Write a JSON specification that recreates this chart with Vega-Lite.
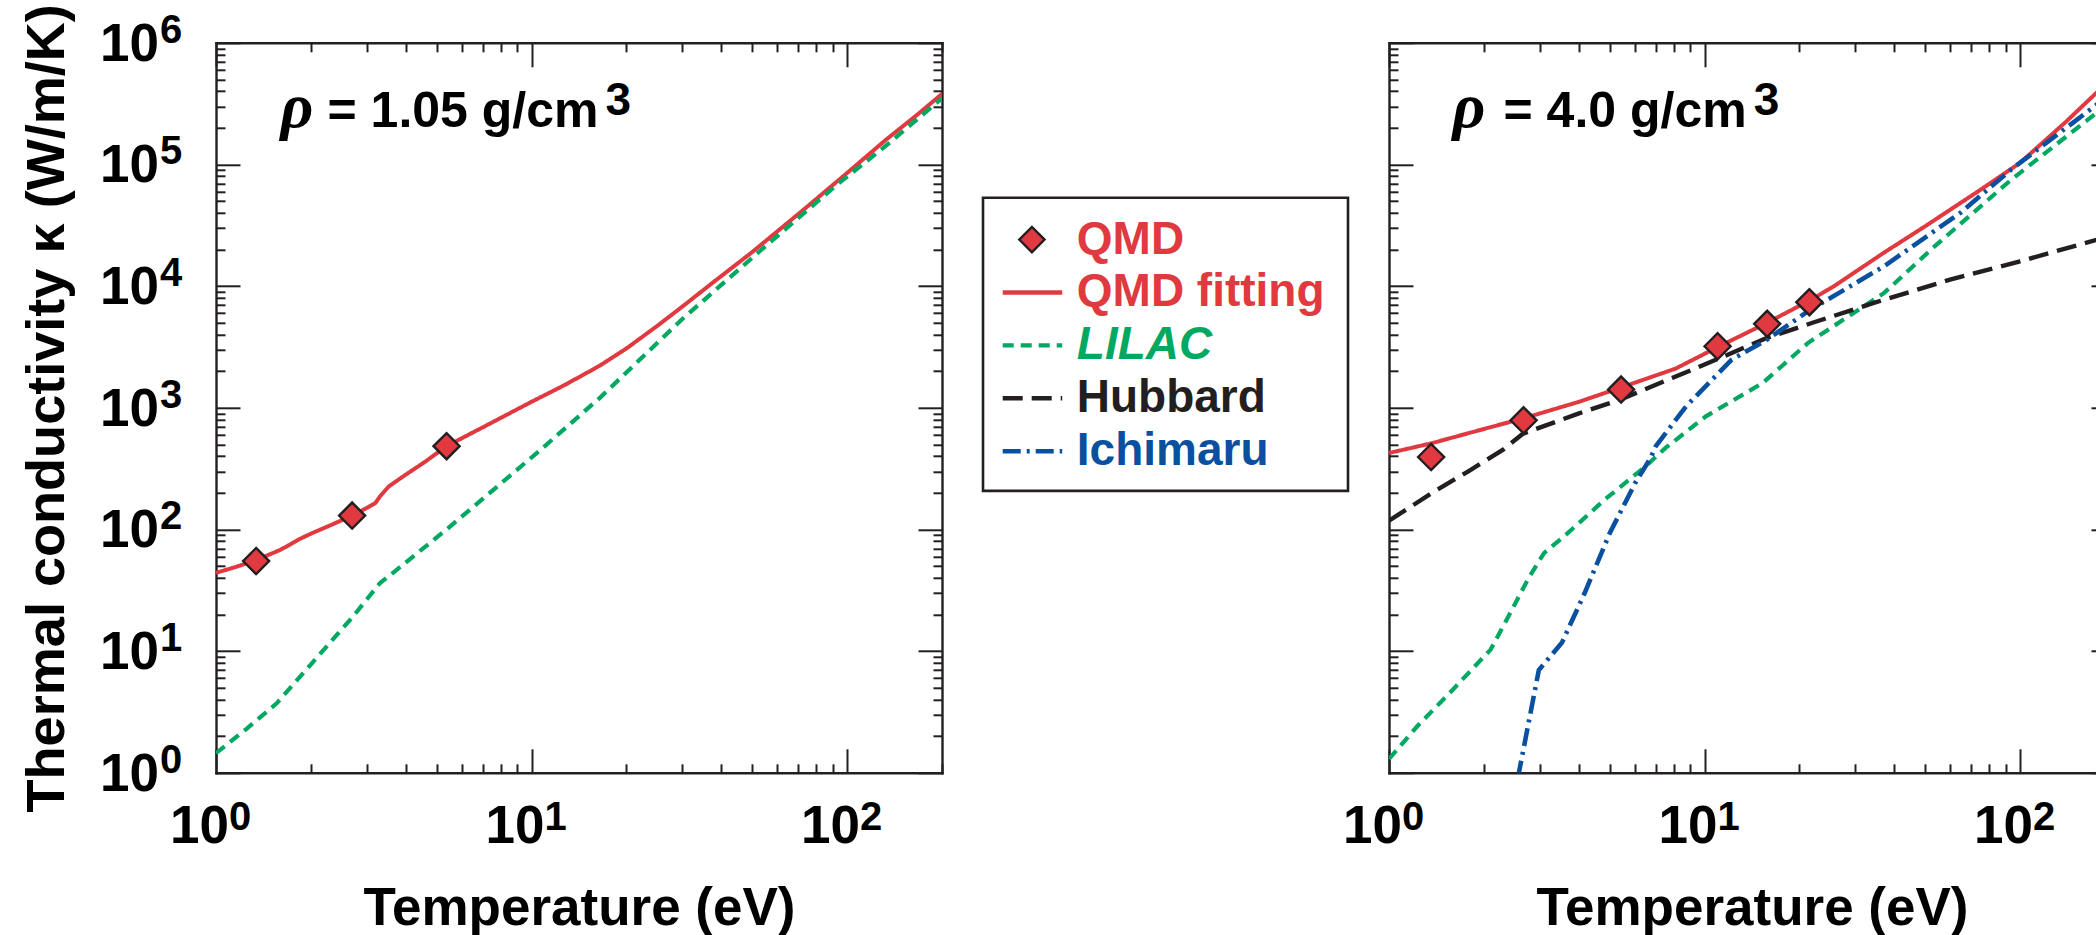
{
  "$schema": "https://vega.github.io/schema/vega-lite/v6.json",
  "background": "white",
  "padding": {"left": 20, "top": 2.8, "right": 0, "bottom": 0},
  "config": {
    "view": {"stroke": null},
    "font": "Liberation Sans",
    "axis": {
      "labels": false,
      "grid": false,
      "tickCount": 30,
      "minExtent": 0,
      "domainColor": "#231f20",
      "domainWidth": 2.4,
      "domainCap": "square",
      "tickColor": "#231f20",
      "tickWidth": 2,
      "titleFont": "Liberation Sans",
      "titleFontSize": 53,
      "titleFontWeight": "bold",
      "titleColor": "#000000"
    },
    "text": {"font": "Liberation Sans", "fontWeight": "bold", "color": "#000000"}
  },
  "datasets": {
    "curves": [
      {"rho": "1.05", "series": "QMD fitting", "T": 1, "k": 44},
      {"rho": "1.05", "series": "QMD fitting", "T": 1.15, "k": 49},
      {"rho": "1.05", "series": "QMD fitting", "T": 1.34, "k": 56},
      {"rho": "1.05", "series": "QMD fitting", "T": 1.6, "k": 68},
      {"rho": "1.05", "series": "QMD fitting", "T": 1.85, "k": 84},
      {"rho": "1.05", "series": "QMD fitting", "T": 2.03, "k": 94},
      {"rho": "1.05", "series": "QMD fitting", "T": 2.3, "k": 108},
      {"rho": "1.05", "series": "QMD fitting", "T": 2.7, "k": 130},
      {"rho": "1.05", "series": "QMD fitting", "T": 3.0, "k": 150},
      {"rho": "1.05", "series": "QMD fitting", "T": 3.2, "k": 165},
      {"rho": "1.05", "series": "QMD fitting", "T": 3.31, "k": 187},
      {"rho": "1.05", "series": "QMD fitting", "T": 3.53, "k": 226},
      {"rho": "1.05", "series": "QMD fitting", "T": 4.0, "k": 283},
      {"rho": "1.05", "series": "QMD fitting", "T": 4.6, "k": 360},
      {"rho": "1.05", "series": "QMD fitting", "T": 5.38, "k": 484},
      {"rho": "1.05", "series": "QMD fitting", "T": 7, "k": 690},
      {"rho": "1.05", "series": "QMD fitting", "T": 10, "k": 1120},
      {"rho": "1.05", "series": "QMD fitting", "T": 12.56, "k": 1510},
      {"rho": "1.05", "series": "QMD fitting", "T": 14.5, "k": 1850},
      {"rho": "1.05", "series": "QMD fitting", "T": 16.5, "k": 2230},
      {"rho": "1.05", "series": "QMD fitting", "T": 20, "k": 3075},
      {"rho": "1.05", "series": "QMD fitting", "T": 25, "k": 4700},
      {"rho": "1.05", "series": "QMD fitting", "T": 30, "k": 6760},
      {"rho": "1.05", "series": "QMD fitting", "T": 37.4, "k": 10600},
      {"rho": "1.05", "series": "QMD fitting", "T": 50, "k": 19000},
      {"rho": "1.05", "series": "QMD fitting", "T": 73, "k": 42700},
      {"rho": "1.05", "series": "QMD fitting", "T": 100, "k": 85000},
      {"rho": "1.05", "series": "QMD fitting", "T": 133, "k": 160000},
      {"rho": "1.05", "series": "QMD fitting", "T": 165, "k": 250000},
      {"rho": "1.05", "series": "QMD fitting", "T": 200, "k": 380000},

      {"rho": "1.05", "series": "LILAC", "T": 1, "k": 1.45},
      {"rho": "1.05", "series": "LILAC", "T": 1.25, "k": 2.3},
      {"rho": "1.05", "series": "LILAC", "T": 1.56, "k": 3.74},
      {"rho": "1.05", "series": "LILAC", "T": 2.0, "k": 7.8},
      {"rho": "1.05", "series": "LILAC", "T": 2.72, "k": 19.3},
      {"rho": "1.05", "series": "LILAC", "T": 3.31, "k": 36.3},
      {"rho": "1.05", "series": "LILAC", "T": 3.64, "k": 44},
      {"rho": "1.05", "series": "LILAC", "T": 5.38, "k": 100},
      {"rho": "1.05", "series": "LILAC", "T": 10.7, "k": 453},
      {"rho": "1.05", "series": "LILAC", "T": 16.5, "k": 1213},
      {"rho": "1.05", "series": "LILAC", "T": 29.9, "k": 5300},
      {"rho": "1.05", "series": "LILAC", "T": 52.2, "k": 18800},
      {"rho": "1.05", "series": "LILAC", "T": 91.5, "k": 66000},
      {"rho": "1.05", "series": "LILAC", "T": 132.6, "k": 142000},
      {"rho": "1.05", "series": "LILAC", "T": 200, "k": 350000},

      {"rho": "4.0", "series": "QMD fitting", "T": 1, "k": 425},
      {"rho": "4.0", "series": "QMD fitting", "T": 1.36, "k": 510},
      {"rho": "4.0", "series": "QMD fitting", "T": 2, "k": 670},
      {"rho": "4.0", "series": "QMD fitting", "T": 2.67, "k": 820},
      {"rho": "4.0", "series": "QMD fitting", "T": 4, "k": 1120},
      {"rho": "4.0", "series": "QMD fitting", "T": 5.44, "k": 1470},
      {"rho": "4.0", "series": "QMD fitting", "T": 8.1, "k": 2100},
      {"rho": "4.0", "series": "QMD fitting", "T": 11, "k": 3150},
      {"rho": "4.0", "series": "QMD fitting", "T": 15.8, "k": 5000},
      {"rho": "4.0", "series": "QMD fitting", "T": 21.5, "k": 7600},
      {"rho": "4.0", "series": "QMD fitting", "T": 25.6, "k": 9900},
      {"rho": "4.0", "series": "QMD fitting", "T": 37, "k": 18800},
      {"rho": "4.0", "series": "QMD fitting", "T": 50, "k": 31000},
      {"rho": "4.0", "series": "QMD fitting", "T": 75, "k": 62000},
      {"rho": "4.0", "series": "QMD fitting", "T": 100, "k": 103000},
      {"rho": "4.0", "series": "QMD fitting", "T": 140, "k": 225000},
      {"rho": "4.0", "series": "QMD fitting", "T": 175, "k": 390000},
      {"rho": "4.0", "series": "QMD fitting", "T": 200, "k": 530000},

      {"rho": "4.0", "series": "LILAC", "T": 1, "k": 1.3},
      {"rho": "4.0", "series": "LILAC", "T": 1.227, "k": 2.4},
      {"rho": "4.0", "series": "LILAC", "T": 1.59, "k": 4.8},
      {"rho": "4.0", "series": "LILAC", "T": 2.1, "k": 10.3},
      {"rho": "4.0", "series": "LILAC", "T": 2.39, "k": 19.3},
      {"rho": "4.0", "series": "LILAC", "T": 2.77, "k": 39.9},
      {"rho": "4.0", "series": "LILAC", "T": 3.1, "k": 64},
      {"rho": "4.0", "series": "LILAC", "T": 3.59, "k": 87.7},
      {"rho": "4.0", "series": "LILAC", "T": 4.83, "k": 176},
      {"rho": "4.0", "series": "LILAC", "T": 6.5, "k": 330},
      {"rho": "4.0", "series": "LILAC", "T": 7.54, "k": 470},
      {"rho": "4.0", "series": "LILAC", "T": 10.1, "k": 851},
      {"rho": "4.0", "series": "LILAC", "T": 15.3, "k": 1602},
      {"rho": "4.0", "series": "LILAC", "T": 21.3, "k": 3420},
      {"rho": "4.0", "series": "LILAC", "T": 32, "k": 6830},
      {"rho": "4.0", "series": "LILAC", "T": 37.1, "k": 8800},
      {"rho": "4.0", "series": "LILAC", "T": 53.7, "k": 21300},
      {"rho": "4.0", "series": "LILAC", "T": 93.8, "k": 75000},
      {"rho": "4.0", "series": "LILAC", "T": 175, "k": 266000},
      {"rho": "4.0", "series": "LILAC", "T": 200, "k": 340000},

      {"rho": "4.0", "series": "Hubbard", "T": 1, "k": 118},
      {"rho": "4.0", "series": "Hubbard", "T": 1.37, "k": 200},
      {"rho": "4.0", "series": "Hubbard", "T": 1.8, "k": 305},
      {"rho": "4.0", "series": "Hubbard", "T": 2.3, "k": 453},
      {"rho": "4.0", "series": "Hubbard", "T": 2.65, "k": 610},
      {"rho": "4.0", "series": "Hubbard", "T": 4, "k": 900},
      {"rho": "4.0", "series": "Hubbard", "T": 5.4, "k": 1168},
      {"rho": "4.0", "series": "Hubbard", "T": 8, "k": 1780},
      {"rho": "4.0", "series": "Hubbard", "T": 10.9, "k": 2490},
      {"rho": "4.0", "series": "Hubbard", "T": 15.8, "k": 3760},
      {"rho": "4.0", "series": "Hubbard", "T": 22, "k": 5000},
      {"rho": "4.0", "series": "Hubbard", "T": 34.4, "k": 7280},
      {"rho": "4.0", "series": "Hubbard", "T": 60, "k": 11300},
      {"rho": "4.0", "series": "Hubbard", "T": 100, "k": 16000},
      {"rho": "4.0", "series": "Hubbard", "T": 175, "k": 24000},
      {"rho": "4.0", "series": "Hubbard", "T": 200, "k": 26000},

      {"rho": "4.0", "series": "Ichimaru", "T": 2.56, "k": 0.9},
      {"rho": "4.0", "series": "Ichimaru", "T": 2.985, "k": 7},
      {"rho": "4.0", "series": "Ichimaru", "T": 3.53, "k": 11.7},
      {"rho": "4.0", "series": "Ichimaru", "T": 4.17, "k": 30},
      {"rho": "4.0", "series": "Ichimaru", "T": 5.01, "k": 93.5},
      {"rho": "4.0", "series": "Ichimaru", "T": 6.03, "k": 241},
      {"rho": "4.0", "series": "Ichimaru", "T": 6.75, "k": 387},
      {"rho": "4.0", "series": "Ichimaru", "T": 7.0, "k": 482},
      {"rho": "4.0", "series": "Ichimaru", "T": 8.74, "k": 1029},
      {"rho": "4.0", "series": "Ichimaru", "T": 12.2, "k": 2490},
      {"rho": "4.0", "series": "Ichimaru", "T": 15.8, "k": 3640},
      {"rho": "4.0", "series": "Ichimaru", "T": 21.3, "k": 6220},
      {"rho": "4.0", "series": "Ichimaru", "T": 37.1, "k": 14600},
      {"rho": "4.0", "series": "Ichimaru", "T": 64.7, "k": 40000},
      {"rho": "4.0", "series": "Ichimaru", "T": 93.8, "k": 91000},
      {"rho": "4.0", "series": "Ichimaru", "T": 175, "k": 310000},
      {"rho": "4.0", "series": "Ichimaru", "T": 200, "k": 405000}
    ],
    "qmd": [
      {"rho": "1.05", "T": 1.34, "k": 55},
      {"rho": "1.05", "T": 2.7, "k": 130},
      {"rho": "1.05", "T": 5.38, "k": 484},
      {"rho": "4.0", "T": 1.36, "k": 394},
      {"rho": "4.0", "T": 2.67, "k": 789},
      {"rho": "4.0", "T": 5.44, "k": 1412},
      {"rho": "4.0", "T": 11.0, "k": 3205},
      {"rho": "4.0", "T": 15.8, "k": 4900},
      {"rho": "4.0", "T": 21.5, "k": 7380}
    ],
    "xticks": [
      {"v": 1, "e": "0"},
      {"v": 10, "e": "1"},
      {"v": 100, "e": "2"}
    ],
    "yticks": [
      {"v": 1, "e": "0"},
      {"v": 10, "e": "1"},
      {"v": 100, "e": "2"},
      {"v": 1000, "e": "3"},
      {"v": 10000, "e": "4"},
      {"v": 100000, "e": "5"},
      {"v": 1000000, "e": "6"}
    ],
    "panels": [
      {"rho": "1.05", "sym": "ρ", "label": "= 1.05 g/cm", "sup": "3"},
      {"rho": "4.0", "sym": "ρ", "label": "= 4.0 g/cm", "sup": "3"}
    ],
    "legendRows": [
      {"series": "QMD", "row": 0},
      {"series": "QMD fitting", "row": 1},
      {"series": "LILAC", "row": 2},
      {"series": "Hubbard", "row": 3},
      {"series": "Ichimaru", "row": 4}
    ]
  },
  "spacing": 41,
  "bounds": "flush",
  "hconcat": [
    {
      "width": 726,
      "height": 730,
      "layer": [
        {
          "data": {"name": "curves"},
          "transform": [{"filter": "datum.rho === '1.05'"}],
          "mark": {"type": "line", "clip": true},
          "encoding": {
            "x": {"field": "T", "type": "quantitative", "scale": {"type": "log", "domain": [1, 200], "nice": false},
                  "axis": {"orient": "bottom", "title": "Temperature (eV)", "titlePadding": 151, "titleBaseline": "alphabetic",
                           "tickSize": {"condition": {"test": "indexof([1,10,100,1000,10000,100000,1000000], datum.value) >= 0", "value": -24}, "value": -9}}},
            "y": {"field": "k", "type": "quantitative", "scale": {"type": "log", "domain": [1, 1000000], "nice": false},
                  "axis": {"orient": "left", "title": "Thermal conductivity κ (W/m/K)", "titleFontSize": 54.1, "titlePadding": 152, "titleBaseline": "alphabetic",
                           "tickSize": {"condition": {"test": "indexof([1,10,100,1000,10000,100000,1000000], datum.value) >= 0", "value": -24}, "value": -9}}},
            "color": {"field": "series", "type": "nominal", "legend": null,
                      "scale": {"domain": ["QMD", "QMD fitting", "LILAC", "Hubbard", "Ichimaru"], "range": ["#e03a40", "#e03a40", "#00a862", "#231f20", "#0a50a0"]}},
            "strokeDash": {"field": "series", "type": "nominal", "legend": null,
                           "scale": {"domain": ["QMD fitting", "LILAC", "Hubbard", "Ichimaru"], "range": [[1, 0], [11, 7], [20, 9], [18, 6, 3, 6]]}},
            "strokeWidth": {"field": "series", "type": "nominal", "legend": null,
                            "scale": {"domain": ["QMD fitting", "LILAC", "Hubbard", "Ichimaru"], "range": [4, 4.6, 4.6, 4.4]}}
          }
        },
        {
          "data": {"name": "qmd"},
          "transform": [{"filter": "datum.rho === '1.05'"}],
          "mark": {"type": "point", "shape": "diamond", "filled": true, "size": 680, "fill": "#e03a40", "stroke": "#231f20", "strokeWidth": 2.4, "opacity": 1},
          "encoding": {
            "x": {"field": "T", "type": "quantitative",
                  "axis": {"orient": "top", "title": null,
                           "tickSize": {"condition": {"test": "indexof([1,10,100,1000,10000,100000,1000000], datum.value) >= 0", "value": -24}, "value": -9}}},
            "y": {"field": "k", "type": "quantitative",
                  "axis": {"orient": "right", "title": null,
                           "tickSize": {"condition": {"test": "indexof([1,10,100,1000,10000,100000,1000000], datum.value) >= 0", "value": -24}, "value": -9}}}
          }
        },
        {
          "data": {"name": "yticks"},
          "mark": {"type": "text", "align": "right", "baseline": "alphabetic", "dx": -57, "dy": 18, "fontSize": 53},
          "encoding": {
            "x": {"datum": 1, "type": "quantitative", "axis": null},
            "y": {"field": "v", "type": "quantitative", "axis": null},
            "text": {"value": "10"}
          }
        },
        {
          "data": {"name": "yticks"},
          "mark": {"type": "text", "align": "left", "baseline": "alphabetic", "dx": -56, "dy": 0, "fontSize": 40},
          "encoding": {
            "x": {"datum": 1, "type": "quantitative", "axis": null},
            "y": {"field": "v", "type": "quantitative", "axis": null},
            "text": {"field": "e"}
          }
        },
        {
          "data": {"name": "xticks"},
          "mark": {"type": "text", "align": "right", "baseline": "alphabetic", "dx": 13, "dy": 70, "fontSize": 53},
          "encoding": {
            "x": {"field": "v", "type": "quantitative", "axis": null},
            "y": {"datum": 1, "type": "quantitative", "axis": null},
            "text": {"value": "10"}
          }
        },
        {
          "data": {"name": "xticks"},
          "mark": {"type": "text", "align": "left", "baseline": "alphabetic", "dx": 13, "dy": 57, "fontSize": 40},
          "encoding": {
            "x": {"field": "v", "type": "quantitative", "axis": null},
            "y": {"datum": 1, "type": "quantitative", "axis": null},
            "text": {"field": "e"}
          }
        },
        {
          "data": {"name": "panels"},
          "transform": [{"filter": "datum.rho === '1.05'"}],
          "mark": {"type": "text", "align": "left", "baseline": "alphabetic", "font": "Liberation Serif", "fontStyle": "italic", "fontWeight": "bold", "fontSize": 64},
          "encoding": {
            "x": {"datum": 1.6, "type": "quantitative", "axis": null},
            "y": {"datum": 205000, "type": "quantitative", "axis": null},
            "text": {"field": "sym"}
          }
        },
        {
          "data": {"name": "panels"},
          "transform": [{"filter": "datum.rho === '1.05'"}],
          "mark": {"type": "text", "align": "right", "baseline": "alphabetic", "fontSize": 50},
          "encoding": {
            "x": {"datum": 16.3, "type": "quantitative", "axis": null},
            "y": {"datum": 205000, "type": "quantitative", "axis": null},
            "text": {"field": "label"}
          }
        },
        {
          "data": {"name": "panels"},
          "transform": [{"filter": "datum.rho === '1.05'"}],
          "mark": {"type": "text", "align": "left", "baseline": "alphabetic", "dx": 7, "dy": -12, "fontSize": 46},
          "encoding": {
            "x": {"datum": 16.3, "type": "quantitative", "axis": null},
            "y": {"datum": 205000, "type": "quantitative", "axis": null},
            "text": {"field": "sup"}
          }
        }
      ],
      "resolve": {"axis": {"x": "independent", "y": "independent"}}
    },
    {
      "width": 365,
      "height": 730,
      "data": {"name": "legendRows"},
      "layer": [
        {
          "transform": [{"filter": "datum.row === 0"}],
          "mark": {"type": "rect", "fill": "#ffffff", "stroke": "#231f20", "strokeWidth": 2.6},
          "encoding": {
            "x": {"datum": 0, "type": "quantitative", "scale": {"domain": [0, 10], "nice": false, "zero": false}, "axis": null},
            "x2": {"datum": 10},
            "y": {"datum": -0.79, "type": "quantitative", "scale": {"domain": [-3.72, 10.08], "nice": false, "zero": false, "reverse": true}, "axis": null},
            "y2": {"datum": 4.75}
          }
        },
        {
          "transform": [{"filter": "datum.row > 0"}],
          "mark": {"type": "rule", "strokeWidth": 4.4},
          "encoding": {
            "x": {"datum": 0.54, "type": "quantitative", "axis": null},
            "x2": {"datum": 2.17},
            "y": {"field": "row", "type": "quantitative", "axis": null},
            "color": {"field": "series", "type": "nominal", "legend": null,
                      "scale": {"domain": ["QMD", "QMD fitting", "LILAC", "Hubbard", "Ichimaru"], "range": ["#e03a40", "#e03a40", "#00a862", "#231f20", "#0a50a0"]}},
            "strokeDash": {"field": "series", "type": "nominal", "legend": null,
                           "scale": {"domain": ["QMD fitting", "LILAC", "Hubbard", "Ichimaru"], "range": [[1, 0], [10, 8], [17, 8], [10, 5, 3, 5]]}}
          }
        },
        {
          "transform": [{"filter": "datum.row === 0"}],
          "mark": {"type": "point", "shape": "diamond", "filled": true, "size": 640, "fill": "#e03a40", "stroke": "#231f20", "strokeWidth": 2.4, "opacity": 1},
          "encoding": {
            "x": {"datum": 1.34, "type": "quantitative", "axis": null},
            "y": {"field": "row", "type": "quantitative", "axis": null}
          }
        },
        {
          "transform": [{"filter": "datum.series !== 'LILAC'"}],
          "mark": {"type": "text", "align": "left", "baseline": "middle", "fontSize": 46},
          "encoding": {
            "x": {"datum": 2.57, "type": "quantitative", "axis": null},
            "y": {"field": "row", "type": "quantitative", "axis": null},
            "text": {"field": "series"},
            "color": {"field": "series", "type": "nominal", "legend": null,
                      "scale": {"domain": ["QMD", "QMD fitting", "LILAC", "Hubbard", "Ichimaru"], "range": ["#e03a40", "#e03a40", "#00a862", "#231f20", "#0a50a0"]}}
          }
        },
        {
          "transform": [{"filter": "datum.series === 'LILAC'"}],
          "mark": {"type": "text", "align": "left", "baseline": "middle", "fontSize": 46, "fontStyle": "italic"},
          "encoding": {
            "x": {"datum": 2.57, "type": "quantitative", "axis": null},
            "y": {"field": "row", "type": "quantitative", "axis": null},
            "text": {"field": "series"},
            "color": {"field": "series", "type": "nominal", "legend": null,
                      "scale": {"domain": ["QMD", "QMD fitting", "LILAC", "Hubbard", "Ichimaru"], "range": ["#e03a40", "#e03a40", "#00a862", "#231f20", "#0a50a0"]}}
          }
        }
      ]
    },
    {
      "width": 726,
      "height": 730,
      "layer": [
        {
          "data": {"name": "curves"},
          "transform": [{"filter": "datum.rho === '4.0'"}],
          "mark": {"type": "line", "clip": true},
          "encoding": {
            "x": {"field": "T", "type": "quantitative", "scale": {"type": "log", "domain": [1, 200], "nice": false},
                  "axis": {"orient": "bottom", "title": "Temperature (eV)", "titlePadding": 151, "titleBaseline": "alphabetic",
                           "tickSize": {"condition": {"test": "indexof([1,10,100,1000,10000,100000,1000000], datum.value) >= 0", "value": -24}, "value": -9}}},
            "y": {"field": "k", "type": "quantitative", "scale": {"type": "log", "domain": [1, 1000000], "nice": false},
                  "axis": {"orient": "left", "title": null,
                           "tickSize": {"condition": {"test": "indexof([1,10,100,1000,10000,100000,1000000], datum.value) >= 0", "value": -24}, "value": -9}}},
            "color": {"field": "series", "type": "nominal", "legend": null,
                      "scale": {"domain": ["QMD", "QMD fitting", "LILAC", "Hubbard", "Ichimaru"], "range": ["#e03a40", "#e03a40", "#00a862", "#231f20", "#0a50a0"]}},
            "strokeDash": {"field": "series", "type": "nominal", "legend": null,
                           "scale": {"domain": ["QMD fitting", "LILAC", "Hubbard", "Ichimaru"], "range": [[1, 0], [11, 7], [20, 9], [18, 6, 3, 6]]}},
            "strokeWidth": {"field": "series", "type": "nominal", "legend": null,
                            "scale": {"domain": ["QMD fitting", "LILAC", "Hubbard", "Ichimaru"], "range": [4, 4.6, 4.6, 4.4]}}
          }
        },
        {
          "data": {"name": "qmd"},
          "transform": [{"filter": "datum.rho === '4.0'"}],
          "mark": {"type": "point", "shape": "diamond", "filled": true, "size": 680, "fill": "#e03a40", "stroke": "#231f20", "strokeWidth": 2.4, "opacity": 1},
          "encoding": {
            "x": {"field": "T", "type": "quantitative",
                  "axis": {"orient": "top", "title": null,
                           "tickSize": {"condition": {"test": "indexof([1,10,100,1000,10000,100000,1000000], datum.value) >= 0", "value": -24}, "value": -9}}},
            "y": {"field": "k", "type": "quantitative",
                  "axis": {"orient": "right", "title": null,
                           "tickSize": {"condition": {"test": "indexof([1,10,100,1000,10000,100000,1000000], datum.value) >= 0", "value": -24}, "value": -9}}}
          }
        },
        {
          "data": {"name": "xticks"},
          "mark": {"type": "text", "align": "right", "baseline": "alphabetic", "dx": 13, "dy": 70, "fontSize": 53},
          "encoding": {
            "x": {"field": "v", "type": "quantitative", "axis": null},
            "y": {"datum": 1, "type": "quantitative", "axis": null},
            "text": {"value": "10"}
          }
        },
        {
          "data": {"name": "xticks"},
          "mark": {"type": "text", "align": "left", "baseline": "alphabetic", "dx": 13, "dy": 57, "fontSize": 40},
          "encoding": {
            "x": {"field": "v", "type": "quantitative", "axis": null},
            "y": {"datum": 1, "type": "quantitative", "axis": null},
            "text": {"field": "e"}
          }
        },
        {
          "data": {"name": "panels"},
          "transform": [{"filter": "datum.rho === '4.0'"}],
          "mark": {"type": "text", "align": "left", "baseline": "alphabetic", "font": "Liberation Serif", "fontStyle": "italic", "fontWeight": "bold", "fontSize": 64},
          "encoding": {
            "x": {"datum": 1.59, "type": "quantitative", "axis": null},
            "y": {"datum": 205000, "type": "quantitative", "axis": null},
            "text": {"field": "sym"}
          }
        },
        {
          "data": {"name": "panels"},
          "transform": [{"filter": "datum.rho === '4.0'"}],
          "mark": {"type": "text", "align": "right", "baseline": "alphabetic", "fontSize": 50},
          "encoding": {
            "x": {"datum": 13.6, "type": "quantitative", "axis": null},
            "y": {"datum": 205000, "type": "quantitative", "axis": null},
            "text": {"field": "label"}
          }
        },
        {
          "data": {"name": "panels"},
          "transform": [{"filter": "datum.rho === '4.0'"}],
          "mark": {"type": "text", "align": "left", "baseline": "alphabetic", "dx": 7, "dy": -12, "fontSize": 46},
          "encoding": {
            "x": {"datum": 13.6, "type": "quantitative", "axis": null},
            "y": {"datum": 205000, "type": "quantitative", "axis": null},
            "text": {"field": "sup"}
          }
        }
      ],
      "resolve": {"axis": {"x": "independent", "y": "independent"}}
    }
  ]
}
